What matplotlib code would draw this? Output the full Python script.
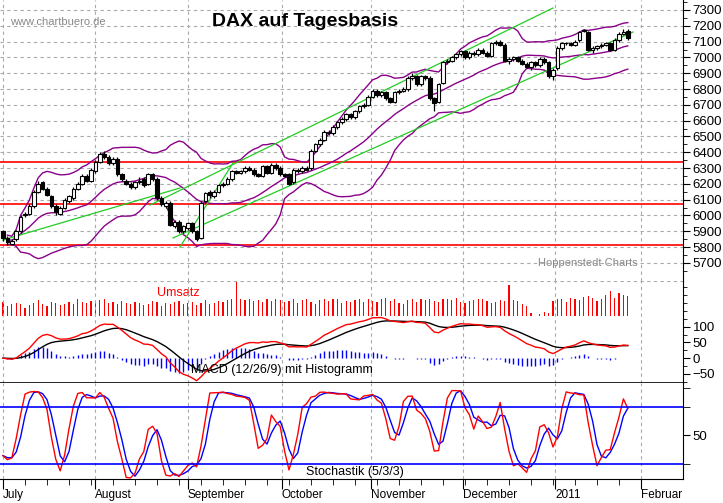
import matplotlib
matplotlib.use("Agg")
import matplotlib.pyplot as plt
import numpy as np
import pandas as pd

plt.rcParams['font.family'] = 'Liberation Sans'

# daily DAX prices, July 2010 - Jan 2011
closes = [5860,5830,5840,5900,5990,6010,6060,6150,6200,6170,6130,6060,6020,6050,6100,6120,6170,6200,6250,6220,
          6290,6340,6390,6370,6330,6360,6260,6230,6200,6180,6210,6220,6190,6260,6230,6110,6070,6080,5940,5960,
          5900,5930,5950,5900,5850,6080,6140,6130,6150,6190,6200,6230,6280,6270,6280,6300,6290,6260,6250,6310,
          6270,6320,6300,6260,6250,6200,6290,6280,6300,6290,6410,6450,6480,6530,6520,6560,6590,6610,6640,6620,
          6660,6690,6700,6750,6790,6760,6780,6740,6720,6780,6790,6800,6870,6880,6830,6880,6870,6740,6710,6830,
          6970,6980,7000,7020,7040,7000,7030,7020,7050,7030,7010,7090,7100,7080,6980,6990,7000,6980,6960,6940,
          6970,6950,6990,6970,6880,6920,7060,7090,7090,7080,7100,7160,7170,7050,7060,7070,7080,7090,7050,7110,
          7150,7160,7120]
opens = [5900,5860,5820,5850,5900,6000,6010,6060,6150,6210,6170,6120,6060,6010,6050,6090,6110,6170,6200,6250,
         6220,6280,6340,6390,6370,6330,6360,6260,6220,6200,6180,6210,6230,6200,6260,6230,6110,6060,6080,5930,
         5960,5900,5920,5950,5900,5860,6090,6150,6120,6150,6190,6200,6230,6280,6270,6280,6300,6290,6260,6250,
         6310,6270,6320,6300,6260,6260,6210,6290,6280,6300,6300,6410,6450,6480,6530,6520,6560,6590,6610,6640,
         6620,6660,6690,6700,6750,6790,6760,6780,6740,6720,6780,6790,6800,6870,6880,6830,6880,6870,6740,6720,
         6840,6970,6980,7000,7020,7040,7000,7030,7020,7050,7030,7010,7090,7100,7080,6980,6990,7000,6980,6960,
         6940,6970,6950,6990,6970,6880,6930,7060,7090,7090,7080,7110,7170,7160,7050,7060,7070,7080,7090,7050,
         7110,7150,7170]
highs = [5910,5870,5850,5910,6000,6020,6070,6160,6220,6220,6180,6130,6070,6060,6110,6130,6180,6210,6260,6260,
         6300,6350,6400,6410,6380,6370,6370,6270,6230,6210,6220,6240,6240,6270,6270,6240,6120,6090,6090,5970,
         5970,5940,5960,5960,5910,6090,6150,6160,6160,6200,6210,6240,6290,6290,6290,6310,6310,6300,6270,6320,
         6320,6330,6330,6310,6270,6270,6300,6300,6310,6310,6420,6460,6490,6540,6540,6570,6600,6620,6650,6650,
         6670,6700,6710,6760,6800,6800,6790,6790,6750,6790,6800,6810,6880,6900,6890,6890,6890,6880,6750,6840,
         6980,6990,7010,7030,7050,7050,7040,7040,7060,7060,7040,7100,7110,7110,7090,7000,7010,7010,6990,6970,
         6980,6980,7000,7000,6980,6930,7070,7100,7100,7100,7110,7170,7180,7170,7070,7080,7090,7100,7100,7120,
         7160,7180,7180]
lows = [5840,5810,5810,5840,5890,5990,6000,6050,6140,6160,6120,6050,6000,6000,6040,6080,6100,6160,6190,6210,
        6210,6270,6330,6360,6320,6320,6250,6220,6190,6170,6170,6200,6180,6190,6220,6100,6060,6050,5930,5920,
        5890,5890,5910,5890,5840,5850,6080,6110,6110,6140,6180,6190,6220,6260,6260,6270,6280,6250,6240,6240,
        6260,6260,6290,6250,6240,6190,6200,6270,6270,6280,6290,6400,6440,6470,6510,6510,6550,6580,6600,6610,
        6610,6650,6680,6690,6740,6750,6750,6730,6710,6710,6770,6780,6790,6860,6820,6820,6860,6730,6660,6710,
        6830,6960,6970,6990,7010,6990,6990,7010,7010,7020,7000,7000,7080,7070,6970,6960,6980,6970,6950,6930,
        6920,6940,6940,6960,6870,6860,6920,7050,7080,7070,7070,7100,7160,7040,7030,7050,7060,7070,7040,7040,
        7100,7140,7110]
volume = [14,10,12,13,12,8,11,13,16,12,10,14,13,11,12,14,12,17,14,13,
          15,14,16,18,13,14,12,15,13,12,14,13,11,12,15,14,10,13,12,14,
          15,12,13,14,11,13,16,12,13,15,14,16,17,35,18,16,17,15,16,14,
          17,15,18,16,14,15,17,13,16,18,14,12,16,17,15,18,17,13,15,14,
          16,18,14,17,15,14,18,19,15,17,13,12,16,18,14,17,16,18,15,14,
          17,18,16,19,14,13,15,16,17,18,15,13,14,16,15,32,16,15,12,10,
          3,0,2,4,3,15,18,17,14,19,18,16,20,21,19,15,18,22,26,19,24,22,21]
num_days = len(closes)

support_lines = [6340, 6070, 5810]
price_ticks = list(range(5700, 7400, 100))
month_pos = [0, 21, 42, 63.4, 83.6, 104.5, 125.5, 145]
month_names = ['July', 'August', 'September', 'October', 'November', 'December', '2011', 'Februar']

W, H = 723, 503
fig = plt.figure(figsize=(W / 100, H / 100), dpi=100)
fig.patch.set_facecolor('white')


def px_axes(x0, y0, x1, y1):
    return fig.add_axes([x0 / W, 1 - y1 / H, (x1 - x0) / W, (y1 - y0) / H])


def px_to_idx(px):
    return (px - 3) / 4.4


def py_to_price(py):
    return 7300 - (py - 10) / 0.158


XL = (px_to_idx(0), px_to_idx(683))
idx = np.arange(num_days)
c = pd.Series(closes, dtype=float)

# ---- price panel ----
ax = px_axes(0, 0, 683, 281)
ax.set_xlim(*XL)
ax.set_ylim(py_to_price(281), py_to_price(0))
for p in price_ticks:
    ax.axhline(p, color='#aaaaaa', ls=(0, (3, 3)), lw=0.8, zorder=0)
for m in month_pos:
    ax.axvline(m, color='#aaaaaa', ls=(0, (3, 3)), lw=0.8, zorder=0)
for s in support_lines:
    ax.axhline(s, color='red', lw=1.2, zorder=1)

mid = c.rolling(20, min_periods=2).mean()
sd = c.rolling(20, min_periods=2).std(ddof=0)
for band in (mid + 2 * sd, mid, mid - 2 * sd):
    ax.plot(idx, band, color='#8b008b', lw=1.0, zorder=2)

# trend channel lines (pixel anchors)
green = [((3, 240), (180, 188)), ((150, 205), (553, 8)),
         ((180, 247), (233, 163)), ((173, 238), (633, 32))]
for (xa, ya), (xb, yb) in green:
    ax.plot([px_to_idx(xa), px_to_idx(xb)], [py_to_price(ya), py_to_price(yb)],
            color='#22cc22', lw=0.9, zorder=2)

for i in range(num_days):
    o, cl = opens[i], closes[i]
    ax.vlines(i, lows[i], highs[i], color='black', lw=0.9, zorder=3)
    face = 'white' if cl >= o else 'black'
    lo, hi = min(o, cl), max(o, cl)
    ax.add_patch(plt.Rectangle((i - 0.4, lo), 0.8, max(hi - lo, 4),
                               facecolor=face, edgecolor='black', lw=0.8, zorder=4))

ax.yaxis.tick_right()
ax.set_yticks(price_ticks)
ax.set_yticks(range(5650, 7400, 50), minor=True)
ax.tick_params(axis='y', labelsize=9.5, length=5, direction='out', pad=2)
ax.tick_params(axis='y', which='minor', length=3)
ax.set_xticks([])
for sp in ('top', 'left', 'bottom'):
    ax.spines[sp].set_visible(False)
ax.text(px_to_idx(10), py_to_price(22), 'www.chartbuero.de', color='#888888', fontsize=8, va='center')
ax.text(px_to_idx(305), py_to_price(22), 'DAX auf Tagesbasis', fontsize=14, fontweight='bold',
        ha='center', va='center')
ax.text(px_to_idx(638), py_to_price(263), 'Hoppenstedt Charts', color='#888888', fontsize=8,
        ha='right', va='center')

# ---- volume ----
axv = px_axes(0, 281, 683, 316)
axv.set_xlim(*XL)
axv.set_ylim(0, 36)
axv.bar(idx, volume, width=0.3, color='red')
axv.axis('off')
axv.text(px_to_idx(178), 24, 'Umsatz', color='red', fontsize=9, ha='center', va='center')

# ---- MACD ----
axm = px_axes(0, 281, 683, 383)
axm.patch.set_alpha(0)
axm.set_xlim(*XL)
axm.set_ylim(-79, 245)
ema12 = c.ewm(span=12, adjust=False).mean()
ema26 = c.ewm(span=26, adjust=False).mean()
macd = ema12 - ema26
signal = macd.ewm(span=9, adjust=False).mean()
axm.vlines(idx, 0, macd - signal, color='blue', lw=1.0)
axm.plot(idx, signal, color='black', lw=1.0)
axm.plot(idx, macd, color='red', lw=1.0)
for m in month_pos:
    axm.axvline(m, color='#aaaaaa', ls=(0, (3, 3)), lw=0.8, zorder=0)
axm.axhline(245, color='#aaaaaa', ls=(0, (3, 3)), lw=0.8)
axm.yaxis.tick_right()
axm.set_yticks([100, 50, 0, -50])
axm.set_yticks(range(-75, 240, 25), minor=True)
axm.tick_params(axis='y', labelsize=9.5, length=5, pad=2)
axm.tick_params(axis='y', which='minor', length=3)
axm.set_xticks([])
for sp in ('top', 'left'):
    axm.spines[sp].set_visible(False)
axm.spines['bottom'].set_linewidth(1.2)
axm.text(px_to_idx(282), -38, 'MACD (12/26/9) mit Histogramm', fontsize=9, ha='center', va='center')

# ---- stochastic ----
axs = px_axes(0, 383, 683, 479)
axs.set_xlim(*XL)
axs.set_ylim(4, 105)
hh = pd.Series(highs, dtype=float).rolling(5, min_periods=1).max()
ll = pd.Series(lows, dtype=float).rolling(5, min_periods=1).min()
k_raw = 100 * (c - ll) / (hh - ll)
k = k_raw.rolling(3, min_periods=1).mean()
d = k.rolling(3, min_periods=1).mean()
axs.plot(idx, d, color='blue', lw=1.0)
axs.plot(idx, k, color='red', lw=1.0)
axs.axhline(80, color='blue', lw=1.2)
axs.axhline(20, color='blue', lw=1.2)
for m in month_pos:
    axs.axvline(m, color='#aaaaaa', ls=(0, (3, 3)), lw=0.8, zorder=0)
axs.yaxis.tick_right()
axs.set_yticks([50])
axs.set_yticks([20, 80, 100], minor=True)
axs.tick_params(axis='y', labelsize=9.5, length=5, pad=2)
axs.tick_params(axis='y', which='minor', length=5)
axs.set_xticks(month_pos)
axs.set_xticklabels(month_names, fontsize=8.5, ha='left')
axs.set_xticks(np.arange(0, 150, 5), minor=True)
axs.tick_params(axis='x', length=7, pad=0)
axs.tick_params(axis='x', which='minor', length=4)
axs.spines['top'].set_visible(False)
axs.spines['left'].set_visible(False)
axs.text(px_to_idx(355), 11, 'Stochastik (5/3/3)', fontsize=9, ha='center', va='center')

fig.savefig('out.png', dpi=100)
